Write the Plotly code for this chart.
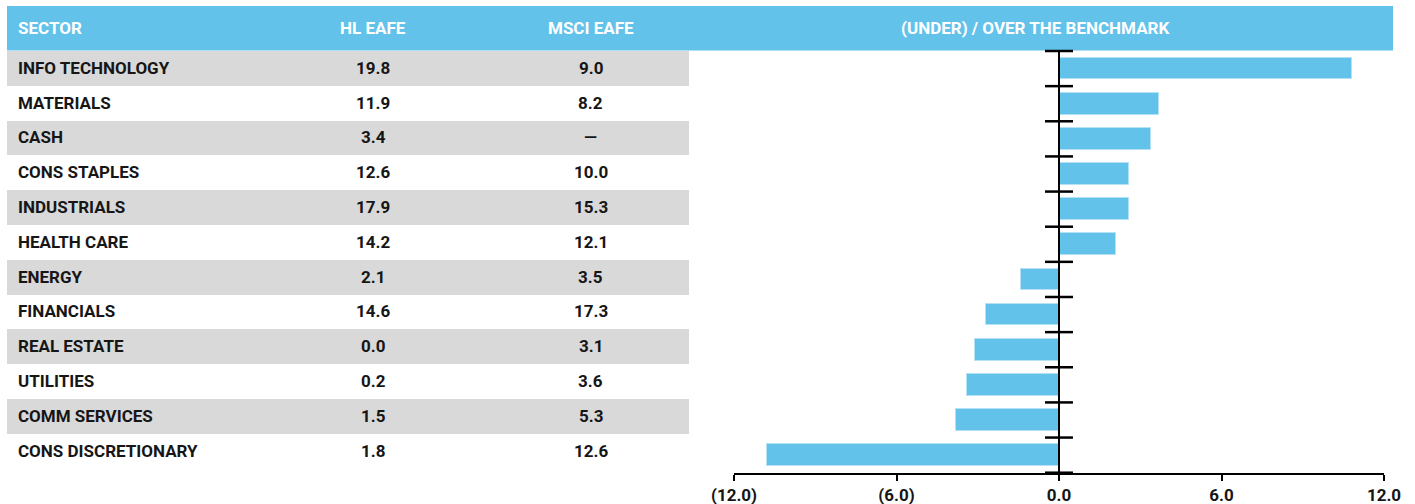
import plotly.graph_objects as go

# ---------------- data ----------------
sectors = ["INFO TECHNOLOGY", "MATERIALS", "CASH", "CONS STAPLES", "INDUSTRIALS",
           "HEALTH CARE", "ENERGY", "FINANCIALS", "REAL ESTATE", "UTILITIES",
           "COMM SERVICES", "CONS DISCRETIONARY"]
hl_eafe = ["19.8", "11.9", "3.4", "12.6", "17.9", "14.2", "2.1", "14.6", "0.0", "0.2", "1.5", "1.8"]
msci_eafe = ["9.0", "8.2", "—", "10.0", "15.3", "12.1", "3.5", "17.3", "3.1", "3.6", "5.3", "12.6"]
over_under = [10.8, 3.7, 3.4, 2.6, 2.6, 2.1, -1.4, -2.7, -3.1, -3.4, -3.8, -10.8]
tick_vals = [-12, -6, 0, 6, 12]
tick_text = ["(12.0)", "(6.0)", "0.0", "6.0", "12.0"]
headers = ["SECTOR", "HL EAFE", "MSCI EAFE", "(UNDER) / OVER THE BENCHMARK"]

# ---------------- style ----------------
W, H = 1415, 504
BLUE = "#62C2EA"
GRAY = "#D9D9D9"
TXT = "#161616"
FONT = "Roboto"
FS = 17


def px_x(p):
    return p / W


def px_y(p):
    return 1 - p / H


n = len(sectors)
rows = list(range(n))

fig = go.Figure()

# table background stripes (odd rows gray)
stripe_rows = [i for i in rows if i % 2 == 0]
fig.add_trace(go.Bar(
    x=[1] * len(stripe_rows), y=stripe_rows, base=0, width=1, orientation="h",
    marker=dict(color=GRAY, line=dict(width=0)),
    xaxis="x2", yaxis="y2", hoverinfo="skip", showlegend=False))

# over/under bars
fig.add_trace(go.Bar(
    x=over_under, y=rows, orientation="h", width=0.62,
    marker=dict(color=BLUE, line=dict(color="#B5E1F5", width=1)),
    xaxis="x", yaxis="y", hoverinfo="skip", showlegend=False))

# vertical zero axis line
fig.add_trace(go.Scatter(
    x=[0, 0], y=[-0.5, n - 0.5], mode="lines",
    line=dict(color="black", width=2), xaxis="x", yaxis="y",
    hoverinfo="skip", showlegend=False, cliponaxis=False))

# crossing tick marks at row boundaries
bounds = [i - 0.5 for i in range(n + 1)]
fig.add_trace(go.Scatter(
    x=[0] * len(bounds), y=bounds, mode="markers",
    marker=dict(symbol="line-ew", size=20, line=dict(color="black", width=2.5)),
    xaxis="x", yaxis="y", hoverinfo="skip", showlegend=False, cliponaxis=False))

annotations = []
col_x = {"sector": 0.013, "hl": 0.537, "msci": 0.856}
for i, (s, h, m) in enumerate(zip(sectors, hl_eafe, msci_eafe)):
    for txt, cx, anc in ((s, col_x["sector"], "left"), (h, col_x["hl"], "center"),
                         (m, col_x["msci"], "center")):
        annotations.append(dict(x=cx, y=i, xref="x2", yref="y2", text=txt,
                                showarrow=False, xanchor=anc, yanchor="middle",
                                font=dict(family=FONT, size=FS, color=TXT, weight="bold")))

head_pos = [(16, "left"), (373, "center"), (591, "center"), (1035, "center")]
for t, (xp, anc) in zip(headers, head_pos):
    annotations.append(dict(x=px_x(xp), y=px_y(28), xref="paper", yref="paper", text=t,
                            showarrow=False, xanchor=anc, yanchor="middle",
                            font=dict(family=FONT, size=FS, color="white", weight="bold")))

shapes = [dict(type="rect", xref="paper", yref="paper",
               x0=px_x(7), x1=px_x(1393), y0=px_y(50.5), y1=px_y(6),
               fillcolor=BLUE, line=dict(width=0), layer="below")]

fig.update_layout(
    width=W, height=H,
    margin=dict(l=0, r=0, t=0, b=0, autoexpand=False),
    paper_bgcolor="white", plot_bgcolor="rgba(0,0,0,0)",
    bargap=0, barmode="overlay",
    hovermode=False,
    annotations=annotations,
    shapes=shapes,
    xaxis=dict(domain=[px_x(734), px_x(1384)], range=[-12, 12], anchor="y",
               tickvals=tick_vals, ticktext=tick_text, ticks="outside", ticklen=6,
               tickwidth=2, tickcolor="black", showline=True, linecolor="black",
               linewidth=2, showgrid=False, zeroline=False, automargin=False,
               tickfont=dict(family=FONT, size=FS, color=TXT, weight="bold")),
    yaxis=dict(domain=[px_y(472.7), px_y(51)], range=[n - 0.5, -0.5], visible=False,
               anchor="x", automargin=False),
    xaxis2=dict(domain=[px_x(7), px_x(689)], range=[0, 1], visible=False, anchor="y2",
                automargin=False),
    yaxis2=dict(domain=[px_y(468), px_y(50.5)], range=[n - 0.5, -0.5], visible=False,
                anchor="x2", automargin=False),
)

fig.write_html(
    "out.html",
    config={"displayModeBar": False},
    post_script="document.body.style.margin='0';document.body.style.overflow='hidden';",
)
